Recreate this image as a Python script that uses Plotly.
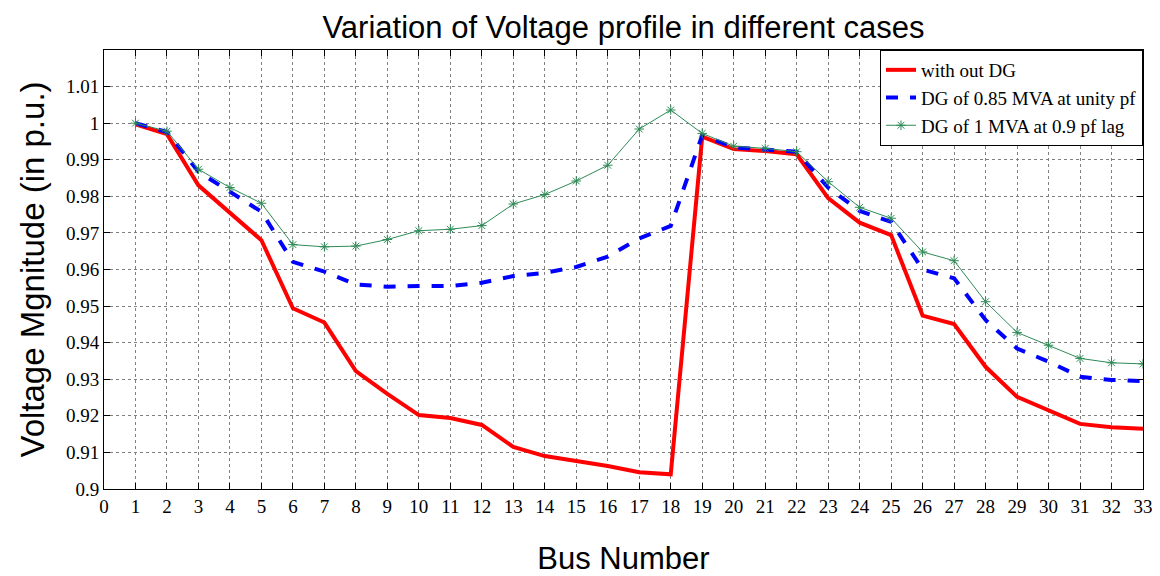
import plotly.graph_objects as go

buses = list(range(1, 34))
without_dg = [0.9997, 0.9970, 0.9830, 0.9755, 0.9680, 0.9494, 0.9455, 0.9322, 0.9260, 0.9202,
              0.9194, 0.9175, 0.9115, 0.9090, 0.9076, 0.9063, 0.9046, 0.9040, 0.9963, 0.9929,
              0.9924, 0.9915, 0.9795, 0.9728, 0.9694, 0.9474, 0.9451, 0.9334, 0.9252, 0.9216,
              0.9178, 0.9169, 0.9165]
dg_unity = [1.0000, 0.9976, 0.9867, 0.9812, 0.9758, 0.9621, 0.9594, 0.9559, 0.9553, 0.9555,
            0.9555, 0.9564, 0.9582, 0.9591, 0.9607, 0.9635, 0.9685, 0.9719, 0.9967, 0.9934,
            0.9928, 0.9922, 0.9824, 0.9760, 0.9730, 0.9600, 0.9576, 0.9462, 0.9384, 0.9348,
            0.9307, 0.9298, 0.9295]
dg_lag = [1.0000, 0.9978, 0.9874, 0.9824, 0.9781, 0.9668, 0.9662, 0.9664, 0.9682, 0.9706,
          0.9710, 0.9720, 0.9779, 0.9805, 0.9842, 0.9885, 0.9984, 1.0036, 0.9972, 0.9937,
          0.9931, 0.9922, 0.9840, 0.9770, 0.9740, 0.9648, 0.9624, 0.9512, 0.9428, 0.9393,
          0.9357, 0.9345, 0.9342]

x_ticks = list(range(0, 34))
y_ticks = [0.90, 0.91, 0.92, 0.93, 0.94, 0.95, 0.96, 0.97, 0.98, 0.99, 1.00, 1.01]
y_tick_text = ["0.9", "0.91", "0.92", "0.93", "0.94", "0.95", "0.96", "0.97", "0.98", "0.99", "1", "1.01"]

fig = go.Figure()
fig.add_trace(go.Scatter(x=buses, y=without_dg, mode="lines", name="with out DG",
                         line=dict(color="#ff0000", width=4)))
fig.add_trace(go.Scatter(x=buses, y=dg_unity, mode="lines", name="DG of 0.85 MVA at unity pf",
                         line=dict(color="#0000ff", width=4, dash="dash")))
fig.add_trace(go.Scatter(x=buses, y=dg_lag, mode="lines+markers", name="DG of 1 MVA at 0.9 pf lag",
                         line=dict(color="#2e8b57", width=1),
                         marker=dict(symbol="asterisk-open", size=8, color="#2e8b57",
                                     line=dict(color="#2e8b57", width=1))))

axis_common = dict(showline=True, linecolor="black", linewidth=1, mirror="ticks",
                   ticks="inside", ticklen=6, tickcolor="black",
                   showgrid=True, gridcolor="#808080", griddash="dot", gridwidth=1,
                   zeroline=False, automargin=False,
                   tickfont=dict(family="Liberation Serif", size=19, color="black"))

fig.update_layout(
    width=1160, height=576,
    paper_bgcolor="white", plot_bgcolor="white",
    margin=dict(l=96, r=25, t=42, b=95),
    title=dict(text="Variation of Voltage profile in different cases",
               font=dict(family="Liberation Sans", size=31, color="black"),
               x=0.5, xanchor="center", xref="paper", y=0.967, yanchor="middle"),
    xaxis=dict(range=[0, 33], tickvals=x_ticks,
               title=dict(text="Bus Number", font=dict(family="Liberation Sans", size=31, color="black"),
                          standoff=31),
               **axis_common),
    yaxis=dict(range=[0.9, 1.02], tickvals=y_ticks, ticktext=y_tick_text,
               title=dict(text="Voltage Mgnitude (in p.u.)",
                          font=dict(family="Liberation Sans", size=33, color="black"), standoff=11),
               **axis_common),
    legend=dict(x=1, y=1, xanchor="right", yanchor="top",
                bgcolor="white", bordercolor="black", borderwidth=1,
                font=dict(family="Liberation Serif", size=19, color="black"),
                tracegroupgap=0),
    showlegend=True,
)

fig.write_html("out.html")
